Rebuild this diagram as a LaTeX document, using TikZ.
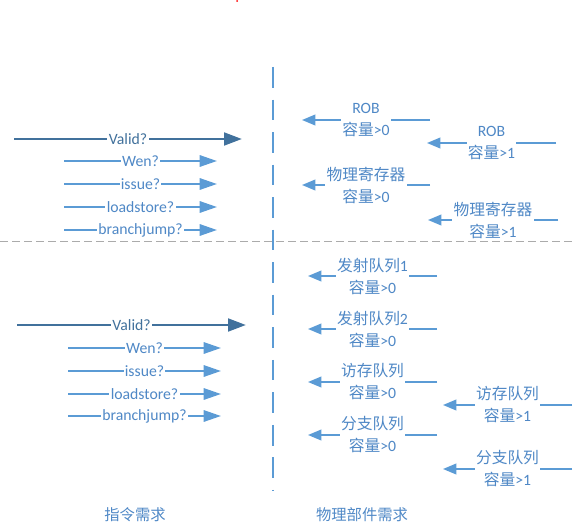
\documentclass[tikz,border=0pt]{standalone}
\usepackage{fontspec}
\setmainfont{Carlito}
\newfontfamily\cjk{Noto Sans CJK SC}
\usetikzlibrary{arrows.meta}
\definecolor{lb}{HTML}{5B9BD5}
\definecolor{db}{HTML}{41719C}
\definecolor{tb}{HTML}{4F88C6}
\definecolor{gr}{HTML}{ABABAB}
\begin{document}
\begin{tikzpicture}[x=0.75pt,y=-0.75pt,font=\fontsize{11.8}{16.5}\selectfont,
  larr/.style={draw=lb,line width=1.6pt,-{Triangle[length=13pt,width=8.5pt]}},
  darr/.style={draw=db,line width=2.2pt,-{Triangle[length=13.5pt,width=9.5pt]}},
  rarr/.style={draw=lb,line width=1.3pt,-{Triangle[length=10pt,width=8pt]}},
  llbl/.style={fill=white,text=tb,inner xsep=1pt,inner ysep=0.5pt},
  dlbl/.style={fill=white,text=db,inner xsep=1pt,inner ysep=0.5pt},
  rlbl/.style={fill=white,text=tb,align=center,inner xsep=1pt,inner ysep=0pt},
  title/.style={text=tb,font=\fontsize{11.5}{13}\selectfont\cjk}]
\useasboundingbox (0,0) rectangle (574,524);
\fill[red] (237,1) circle (1);
% separators
\draw[lb,line width=1.1pt,dash pattern=on 15.5pt off 8.9pt] (273,67) coordinate (vs) -- (273,490) coordinate (ve);
\draw[gr,line width=0.75pt,dash pattern=on 6pt off 3pt] (0,241.5) coordinate (hs) -- (574,241.5) coordinate (he);
% top left
\coordinate (a1s) at (14,139);  \coordinate (a1e) at (242,139);
\coordinate (a2s) at (64,161);  \coordinate (a2e) at (217,161);
\coordinate (a3s) at (64,184);  \coordinate (a3e) at (217,184);
\coordinate (a4s) at (64,207);  \coordinate (a4e) at (217,207);
\coordinate (a5s) at (64,230);  \coordinate (a5e) at (217,230);
\draw[darr] (a1s) -- node[dlbl]{Valid?} (a1e);
\draw[larr] (a2s) -- node[llbl]{Wen?} (a2e);
\draw[larr] (a3s) -- node[llbl]{issue?} (a3e);
\draw[larr] (a4s) -- node[llbl]{loadstore?} (a4e);
\draw[larr] (a5s) -- node[llbl]{branchjump?} (a5e);
% bottom left
\coordinate (b1s) at (17,325);  \coordinate (b1e) at (246,325);
\coordinate (b2s) at (68,348);  \coordinate (b2e) at (221,348);
\coordinate (b3s) at (68,371);  \coordinate (b3e) at (221,371);
\coordinate (b4s) at (68,394);  \coordinate (b4e) at (221,394);
\coordinate (b5s) at (68,416);  \coordinate (b5e) at (221,416);
\draw[darr] (b1s) -- node[dlbl]{Valid?} (b1e);
\draw[larr] (b2s) -- node[llbl]{Wen?} (b2e);
\draw[larr] (b3s) -- node[llbl]{issue?} (b3e);
\draw[larr] (b4s) -- node[llbl]{loadstore?} (b4e);
\draw[larr] (b5s) -- node[llbl]{branchjump?} (b5e);
% top right
\coordinate (r1s) at (430,120); \coordinate (r1e) at (302,120);
\coordinate (r2s) at (556,143); \coordinate (r2e) at (427,143);
\coordinate (r3s) at (430,185); \coordinate (r3e) at (302,185);
\coordinate (r4s) at (558,220); \coordinate (r4e) at (428,220);
\draw[rarr] (r1s) -- node[rlbl]{ROB\\{\cjk 容量}>0} (r1e);
\draw[rarr] (r2s) -- node[rlbl]{ROB\\{\cjk 容量}>1} (r2e);
\draw[rarr] (r3s) -- node[rlbl]{{\cjk 物理寄存器}\\{\cjk 容量}>0} (r3e);
\draw[rarr] (r4s) -- node[rlbl]{{\cjk 物理寄存器}\\{\cjk 容量}>1} (r4e);
% bottom right
\coordinate (q1s) at (437,276); \coordinate (q1e) at (308,276);
\coordinate (q2s) at (437,329); \coordinate (q2e) at (308,329);
\coordinate (q3s) at (437,382); \coordinate (q3e) at (308,382);
\coordinate (q4s) at (572,405); \coordinate (q4e) at (443,405);
\coordinate (q5s) at (437,435); \coordinate (q5e) at (308,435);
\coordinate (q6s) at (572,469); \coordinate (q6e) at (443,469);
\draw[rarr] (q1s) -- node[rlbl]{{\cjk 发射队列}1\\{\cjk 容量}>0} (q1e);
\draw[rarr] (q2s) -- node[rlbl]{{\cjk 发射队列}2\\{\cjk 容量}>0} (q2e);
\draw[rarr] (q3s) -- node[rlbl]{{\cjk 访存队列}\\{\cjk 容量}>0} (q3e);
\draw[rarr] (q4s) -- node[rlbl]{{\cjk 访存队列}\\{\cjk 容量}>1} (q4e);
\draw[rarr] (q5s) -- node[rlbl]{{\cjk 分支队列}\\{\cjk 容量}>0} (q5e);
\draw[rarr] (q6s) -- node[rlbl]{{\cjk 分支队列}\\{\cjk 容量}>1} (q6e);
% titles
\node[title] (t1) at (135,515) {指令需求};
\node[title] (t2) at (362,515) {物理部件需求};
\end{tikzpicture}
\end{document}
